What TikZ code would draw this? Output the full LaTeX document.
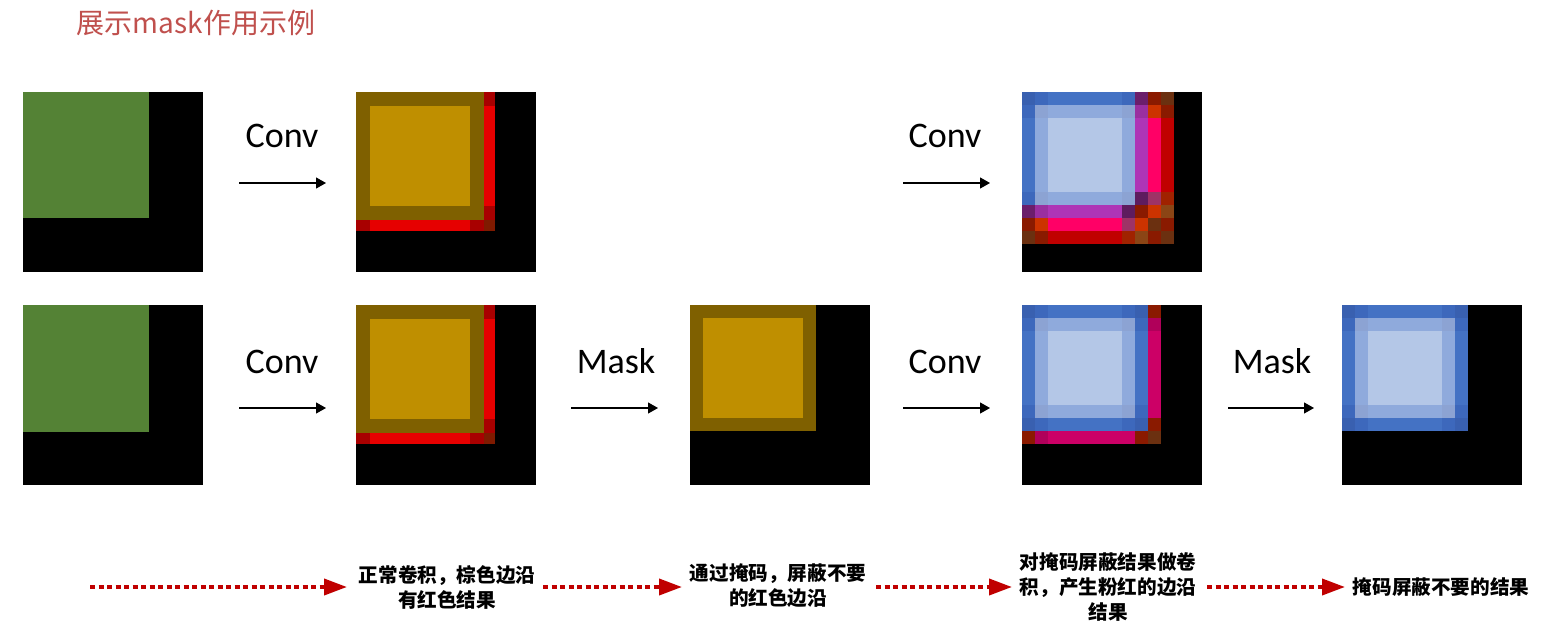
\documentclass[tikz,border=0pt]{standalone}
\usepackage{fontspec}
\newfontfamily\cjk{Noto Sans CJK SC}
\newfontfamily\lab{Carlito}
\usetikzlibrary{arrows.meta}
% greens / browns / reds
\definecolor{gr}{HTML}{548235}
\definecolor{nD}{HTML}{7F6000}
\definecolor{nL}{HTML}{BF8F00}
\definecolor{nR}{HTML}{E60000}
\definecolor{nK}{HTML}{A80000}
\definecolor{nX}{HTML}{7F1A00}
% blues
\definecolor{bB}{HTML}{4472C4}
\definecolor{bD}{HTML}{3960B0}
\definecolor{bE}{HTML}{3D68BC}
\definecolor{bG}{HTML}{8CA3D3}
\definecolor{bL}{HTML}{8FAADC}
\definecolor{bW}{HTML}{B4C7E7}
% purples / mixed reds
\definecolor{pA}{HTML}{6B1E6B}
\definecolor{pB}{HTML}{9A2FA0}
\definecolor{pC}{HTML}{AE35B6}
\definecolor{pD}{HTML}{5E1C5E}
\definecolor{rA}{HTML}{8A1A00}
\definecolor{rB}{HTML}{CC3300}
\definecolor{rC}{HTML}{FF0066}
\definecolor{rD}{HTML}{C00000}
\definecolor{rE}{HTML}{6B3010}
\definecolor{rF}{HTML}{9E3366}
\definecolor{rG}{HTML}{A02200}
\definecolor{rH}{HTML}{8B4515}
\definecolor{mA}{HTML}{B0005A}
\definecolor{mB}{HTML}{CC0066}
\definecolor{dred}{HTML}{C00000}
\definecolor{ttl}{HTML}{C0504D}

\def\bandsN{{0,14,114,128,139}}
\def\bandsM{{0,13,113,126}}
\def\bandsB{{0,13,26,100,113,126,139,152}}

\newcommand\drawgrid[3]{%
  \begin{scope}[shift={#2}]
    \foreach \rw [count=\ri from 0] in {#3}{
      \foreach \cl [count=\ci from 0] in \rw {
        \pgfmathsetmacro\xa{#1[\ci]}%
        \pgfmathsetmacro\xb{#1[\ci+1]}%
        \pgfmathsetmacro\ya{#1[\ri]}%
        \pgfmathsetmacro\yb{#1[\ri+1]}%
        \fill[\cl] (\xa,\ya) rectangle (\xb,\yb);
      }
    }
  \end{scope}}

\tikzset{
  sq/.style={fill=black, draw=none, minimum size=180pt, inner sep=0pt, outer sep=0pt, anchor=north west},
  opl/.style={font=\lab\fontsize{36}{40}\selectfont, anchor=base, inner sep=0pt},
  oparr/.style={-{Triangle[length=10pt,width=11pt]}, line width=1.2pt, black},
  note/.style={font=\cjk\bfseries\fontsize{19.6}{25}\selectfont, align=center, inner sep=0pt},
  dotarr/.style={dred, line width=3.8pt, dash pattern=on 5pt off 3.5pt,
    -{Triangle[length=23pt,width=16pt]}},
}

\begin{document}
\begin{tikzpicture}[x=1pt,y=-1pt]
\useasboundingbox (0,0) rectangle (1556,631);
\fill[white] (0,0) rectangle (1556,631);

% title
\node[font=\cjk\fontsize{28}{32}\selectfont, text=ttl, inner sep=0pt] (title) at (196,23) {展示mask作用示例};

% ---------- row 1 ----------
\node[sq] (r1a) at (23,92) {};
\fill[gr] (23,92) rectangle (149,218);

\node[sq] (r1b) at (356,92) {};
\drawgrid{\bandsN}{(356,92)}{{nD,nD,nD,nK},{nD,nL,nD,nR},{nD,nD,nD,nK},{nK,nR,nK,nX}}

\node[sq] (r1d) at (1022,92) {};
\drawgrid{\bandsB}{(1022,92)}{%
{bD,bE,bB,bE,pA,rA,rE},%
{bE,bG,bL,bG,pB,rB,rA},%
{bB,bL,bW,bL,pC,rC,rD},%
{bE,bG,bL,bG,pD,rF,rG},%
{pA,pB,pC,pD,rA,rB,rH},%
{rA,rB,rC,rF,rB,rE,rA},%
{rE,rA,rD,rG,rH,rA,rE}}

\node[opl] (l1a) at (282,148) {Conv};
\coordinate (a1s) at (239,183);
\coordinate (a1e) at (326,183);
\draw[oparr] (a1s) -- (a1e);

\node[opl] (l1b) at (945,148) {Conv};
\coordinate (a2s) at (903,183);
\coordinate (a2e) at (990,183);
\draw[oparr] (a2s) -- (a2e);

% ---------- row 2 ----------
\node[sq] (r2a) at (23,305) {};
\fill[gr] (23,305) rectangle (149,432);

\node[sq] (r2b) at (356,305) {};
\drawgrid{\bandsN}{(356,305)}{{nD,nD,nD,nK},{nD,nL,nD,nR},{nD,nD,nD,nK},{nK,nR,nK,nX}}

\node[sq] (r2c) at (690,305) {};
\drawgrid{\bandsM}{(690,305)}{{nD,nD,nD},{nD,nL,nD},{nD,nD,nD}}

\node[sq] (r2d) at (1022,305) {};
\drawgrid{\bandsB}{(1022,305)}{%
{bD,bE,bB,bE,bD,rA},%
{bE,bG,bL,bG,bE,mA},%
{bB,bL,bW,bL,bB,mB},%
{bE,bG,bL,bG,bE,mB},%
{bD,bE,bB,bE,bD,rA},%
{rA,mA,mB,mB,rA,rE}}

\node[sq] (r2e) at (1342,305) {};
\drawgrid{\bandsB}{(1342,305)}{%
{bD,bE,bB,bE,bD},%
{bE,bG,bL,bG,bE},%
{bB,bL,bW,bL,bB},%
{bE,bG,bL,bG,bE},%
{bD,bE,bB,bE,bD}}

\node[opl] (l2a) at (282,373) {Conv};
\coordinate (b1s) at (239,408);
\coordinate (b1e) at (326,408);
\draw[oparr] (b1s) -- (b1e);

\node[opl] (l2b) at (616,373) {Mask};
\coordinate (b2s) at (571,408);
\coordinate (b2e) at (658,408);
\draw[oparr] (b2s) -- (b2e);

\node[opl] (l2c) at (945,373) {Conv};
\coordinate (b3s) at (903,408);
\coordinate (b3e) at (990,408);
\draw[oparr] (b3s) -- (b3e);

\node[opl] (l2d) at (1272,373) {Mask};
\coordinate (b4s) at (1228,408);
\coordinate (b4e) at (1314,408);
\draw[oparr] (b4s) -- (b4e);

% ---------- bottom notes ----------
\node[note] (t1) at (447,587) {正常卷积，棕色边沿\\有红色结果};
\node[note] (t2) at (778,586) {通过掩码，屏蔽不要\\的红色边沿};
\node[note] (t3) at (1108,587) {对掩码屏蔽结果做卷\\积，产生粉红的边沿\\结果};
\node[note] (t4) at (1441,587) {掩码屏蔽不要的结果};

\coordinate (d0) at (90,587);
\draw[dotarr] (d0) -- (347,587);
\draw[dotarr] (543,587) -- (682,587);
\draw[dotarr] (876,587) -- (1012,587);
\draw[dotarr] (1207,587) -- (1345,587);
\end{tikzpicture}
\end{document}
